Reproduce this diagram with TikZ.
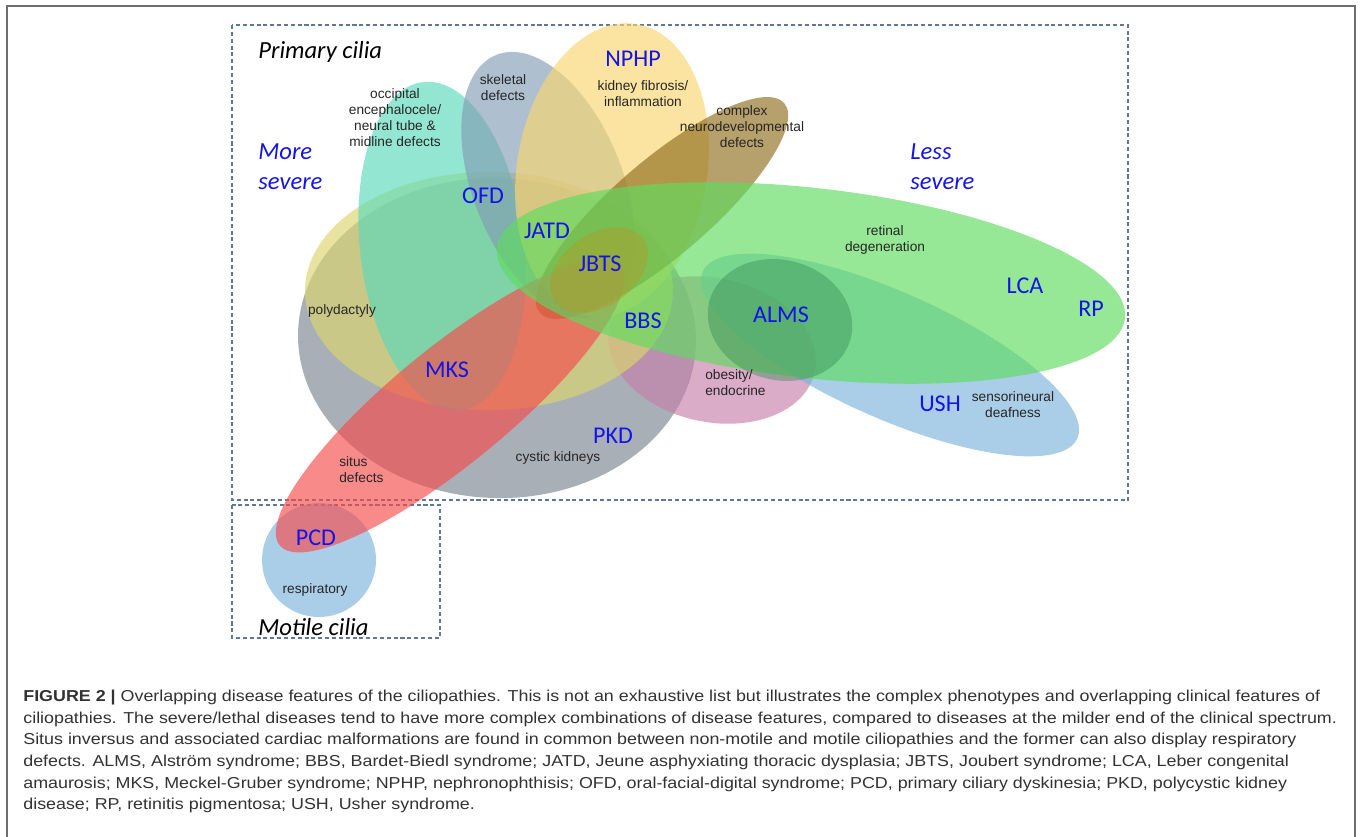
\documentclass[tikz,border=0pt]{standalone}
\usepackage{fontspec}
\setmainfont{Liberation Sans}
\newfontfamily\califont{Carlito}
\newfontfamily\capfont[FakeStretch=1.13]{Liberation Sans}
\usetikzlibrary{positioning}
\definecolor{pkdgray}{RGB}{122,132,144}
\definecolor{dactyyellow}{RGB}{220,214,109}
\definecolor{ofdteal}{RGB}{89,217,186}
\definecolor{skelblue}{RGB}{131,157,181}
\definecolor{nphpyellow}{RGB}{249,214,112}
\definecolor{neurobrown}{RGB}{143,109,29}
\definecolor{situsred}{RGB}{246,75,75}
\definecolor{retgreen}{RGB}{94,220,94}
\definecolor{almsgreen}{RGB}{50,135,80}
\definecolor{ushblue}{RGB}{124,178,220}
\definecolor{obespink}{RGB}{198,127,170}
\definecolor{jbtsgold}{RGB}{185,150,35}
\definecolor{labelblue}{RGB}{20,20,230}
\definecolor{boxblue}{RGB}{95,120,150}
\definecolor{framegray}{RGB}{110,110,110}
\definecolor{captext}{RGB}{50,50,50}
\tikzstyle{blob} = [draw=none, fill opacity=0.65]
\tikzstyle{disease} = [inner sep=0, text=labelblue,
    text height=1.5ex, text depth=0.2ex,
    font=\califont\fontsize{13.7}{15}\selectfont]
\tikzstyle{feature} = [inner sep=0, align=center, text=black!85,
    text height=1.5ex, text depth=0.3ex,
    font=\fontsize{7.8}{9.2}\selectfont]
\tikzstyle{heading} = [inner sep=0, anchor=west, align=left,
    font=\califont\itshape\fontsize{14}{17}\selectfont]
\tikzstyle{capline} = [inner sep=0, anchor=base west, text=captext,
    font=\capfont\fontsize{9}{12}\selectfont]
\tikzstyle{dashbox} = [draw=boxblue, line width=0.6pt,
    dash pattern=on 2.3pt off 1.6pt]

\begin{document}
\begin{tikzpicture}[x=0.02cm, y=-0.02cm]

\useasboundingbox (0,0) rectangle (1360,837);
\draw[framegray, line width=1pt] (7,850) -- (7,6) -- (1355,6) -- (1355,850);

%%% boxes
\draw[dashbox] (232,25) rectangle (1128,500);
\draw[dashbox] (232,505) rectangle (440,638);

%%% ellipses
\fill[blob, pkdgray, rotate around={-2:(497,338)}] (497,338) ellipse (199 and 160);
\fill[blob, obespink, rotate around={-12:(712,350)}] (712,350) ellipse (105 and 72);
\fill[blob, ushblue, rotate around={-24:(890,355)}] (890,355) ellipse (205 and 63);
\fill[blob, dactyyellow] (489,291) ellipse (184 and 119);
\fill[blob, ofdteal, rotate around={6.5:(442,246)}] (442,246) ellipse (82 and 165);
\fill[blob, skelblue, rotate around={21.6:(548,185)}] (548,185) ellipse (75 and 140);
\fill[blob, nphpyellow, rotate around={-9.6:(612,170)}] (612,170) ellipse (95 and 148);
\fill[blob, neurobrown, rotate around={40.6:(662,208)}] (662,208) ellipse (161 and 48);
\fill[blob, ushblue] (319,560) circle (57);
\fill[blob, situsred, rotate around={39.3:(450,406)}] (450,406) ellipse (220 and 58);
\fill[blob, retgreen, rotate around={-6.4:(811,283)}] (811,283) ellipse (316 and 95);
\fill[blob, almsgreen, fill opacity=0.4, rotate around={-15:(780,320)}] (780,320) ellipse (73 and 60);
\fill[blob, jbtsgold, fill opacity=0.4, rotate around={35:(599,270)}] (599,270) ellipse (54 and 36);

%%% headings
\node[heading] (primary) at (258,52) {Primary cilia};
\node[heading, text=labelblue] (more) at (258,167) {More\\severe};
\node[heading, text=labelblue] (less) at (910,167) {Less\\severe};
\node[heading] (motile) at (258,627) {Motile cilia};

%%% diseases
\node[disease] (nphp) at (633,60) {NPHP};
\node[disease] (ofd) at (483,197) {OFD};
\node[disease] (jatd) at (547,232) {JATD};
\node[disease] (jbts) at (600,265) {JBTS};
\node[disease] (bbs) at (643,322) {BBS};
\node[disease] (mks) at (447,371) {MKS};
\node[disease] (pkd) at (613,437) {PKD};
\node[disease] (alms) at (781,316) {ALMS};
\node[disease] (lca) at (1025,287) {LCA};
\node[disease] (rp) at (1091,310) {RP};
\node[disease] (ush) at (940,405) {USH};
\node[disease] (pcd) at (316,539) {PCD};

%%% features
\node[feature] (occip) at (395,141) {occipital\\encephalocele/\\neural tube \&\\midline defects};
\node[feature] (skel) at (503,95) {skeletal\\defects};
\node[feature] (kidney) at (643,101) {kidney fibrosis/\\inflammation};
\node[feature] (neuro) at (742,142) {complex\\neurodevelopmental\\defects};
\node[feature] (retina) at (885,246) {retinal\\degeneration};
\node[feature] (polyd) at (342,309) {polydactyly};
\node[feature, anchor=west, align=left] (obes) at (705,390) {obesity/\\endocrine};
\node[feature] (deaf) at (1013,412) {sensorineural\\deafness};
\node[feature] (cystic) at (558,456) {cystic kidneys};
\node[feature, anchor=west, align=left] (situs) at (339,477) {situs\\defects};
\node[feature] (resp) at (315,588) {respiratory};

%%% caption
\node[capline] (cap1) at (23,702) {\textbf{FIGURE 2 |} Overlapping disease features of the ciliopathies. This is not an exhaustive list but illustrates the complex phenotypes and overlapping clinical features of};
\node[capline] (cap2) at (23,723.5) {ciliopathies. The severe/lethal diseases tend to have more complex combinations of disease features, compared to diseases at the milder end of the clinical spectrum.};
\node[capline] (cap3) at (23,745) {Situs inversus and associated cardiac malformations are found in common between non-motile and motile ciliopathies and the former can also display respiratory};
\node[capline] (cap4) at (23,766.5) {defects. ALMS, Alström syndrome; BBS, Bardet-Biedl syndrome; JATD, Jeune asphyxiating thoracic dysplasia; JBTS, Joubert syndrome; LCA, Leber congenital};
\node[capline] (cap5) at (23,788) {amaurosis; MKS, Meckel-Gruber syndrome; NPHP, nephronophthisis; OFD, oral-facial-digital syndrome; PCD, primary ciliary dyskinesia; PKD, polycystic kidney};
\node[capline] (cap6) at (23,809.5) {disease; RP, retinitis pigmentosa; USH, Usher syndrome.};

\end{tikzpicture}
\end{document}
